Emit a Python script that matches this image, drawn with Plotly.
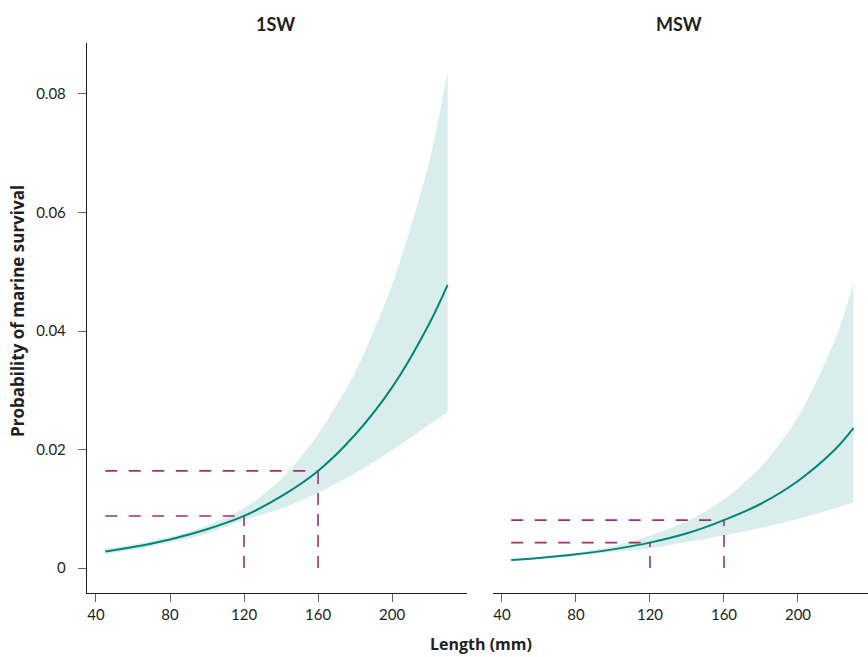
import plotly.graph_objects as go

# ---- data ----
lengths = [45, 60, 80, 100, 120, 140, 160, 180, 200, 220, 230]

sw1_fit = [0.0028, 0.00355, 0.00484, 0.00655, 0.0088, 0.0121, 0.0164, 0.0225, 0.0305, 0.0412, 0.0478]
sw1_upper = [0.0033, 0.0040, 0.0053, 0.0072, 0.0101, 0.0150, 0.0226, 0.0330, 0.0478, 0.0685, 0.0838]
sw1_lower = [0.0024, 0.0031, 0.0043, 0.0058, 0.0081, 0.0100, 0.0127, 0.0160, 0.0199, 0.0242, 0.0263]

msw_fit = [0.00135, 0.0017, 0.00232, 0.00316, 0.0043, 0.00587, 0.0081, 0.01086, 0.0147, 0.0200, 0.0236]
msw_upper = [0.0014, 0.0018, 0.0026, 0.0037, 0.0055, 0.0079, 0.0116, 0.0171, 0.0255, 0.0385, 0.0480]
msw_lower = [0.0013, 0.0016, 0.0021, 0.0027, 0.0033, 0.0044, 0.0055, 0.0068, 0.0083, 0.0101, 0.0111]

ref_lengths = [120, 160]
sw1_ref_prob = [0.0088, 0.0164]
msw_ref_prob = [0.0043, 0.0081]

x_ticks = [40, 80, 120, 160, 200]
y_ticks = [0, 0.02, 0.04, 0.06, 0.08]
y_tick_text = ["0", "0.02", "0.04", "0.06", "0.08"]

panel_titles = ["1SW", "MSW"]
x_title = "Length (mm)"
y_title = "Probability of marine survival"

# ---- styles ----
LINE = "#00857a"
BAND = "#d9eded"
DASH = "#a1306c"
INK = "#231f20"

fig = go.Figure()

panels = [
    ("x", "y", sw1_fit, sw1_upper, sw1_lower, sw1_ref_prob),
    ("x2", "y2", msw_fit, msw_upper, msw_lower, msw_ref_prob),
]

for xa, ya, fit, up, lo, refp in panels:
    fig.add_trace(go.Scatter(x=lengths, y=lo, mode="lines", line=dict(width=0, shape="spline", smoothing=0.8),
                             xaxis=xa, yaxis=ya, hoverinfo="skip", showlegend=False))
    fig.add_trace(go.Scatter(x=lengths, y=up, mode="lines", line=dict(width=0, shape="spline", smoothing=0.8),
                             fill="tonexty", fillcolor=BAND,
                             xaxis=xa, yaxis=ya, hoverinfo="skip", showlegend=False))
    for L, p in zip(ref_lengths, refp):
        fig.add_trace(go.Scatter(x=[lengths[0], L], y=[p, p], mode="lines",
                                 line=dict(color=DASH, width=1.6, dash="12px,11.5px"),
                                 xaxis=xa, yaxis=ya, hoverinfo="skip", showlegend=False))
        fig.add_trace(go.Scatter(x=[L, L], y=[0, p], mode="lines",
                                 line=dict(color=DASH, width=1.6, dash="12px,9px"),
                                 xaxis=xa, yaxis=ya, hoverinfo="skip", showlegend=False))
    fig.add_trace(go.Scatter(x=lengths, y=fit, mode="lines",
                             line=dict(color=LINE, width=2, shape="spline"),
                             xaxis=xa, yaxis=ya, showlegend=False))

tickfont = dict(family="Lato", size=15, color=INK)
common_x = dict(tickvals=x_ticks, ticks="outside", ticklen=8, tickwidth=1.2, tickcolor="#666",
                showline=True, linecolor=INK, linewidth=1.4, showgrid=False, zeroline=False,
                tickfont=tickfont)

plot_h = 657 - 43 - 64
plot_w = 868 - 87
def py(px_y):
    return (657 - 64 - px_y) / plot_h
def px(px_x):
    return (px_x - 87) / plot_w

fig.update_layout(
    width=868, height=657,
    margin=dict(l=87, r=0, t=43, b=64),
    paper_bgcolor="white", plot_bgcolor="white",
    xaxis=dict(domain=[0, 0.4866], range=[35.14, 240.5], anchor="y", **common_x),
    xaxis2=dict(domain=[0.5198, 1.0], range=[35.14, 237.84], anchor="y2", **common_x),
    yaxis=dict(range=[-0.0042, 0.0886], tickvals=y_ticks, ticktext=y_tick_text,
               ticks="outside", ticklen=8, tickwidth=1.2, tickcolor="#666",
               ticklabelstandoff=9,
               showline=True, linecolor=INK, linewidth=1.4, showgrid=False, zeroline=False,
               tickfont=tickfont, anchor="x"),
    yaxis2=dict(range=[-0.0042, 0.0886], matches="y", showline=False, showticklabels=False,
                ticks="", showgrid=False, zeroline=False, anchor="x2"),
    annotations=[
        dict(text="<b>" + panel_titles[0] + "</b>", x=px(275), y=py(24), xref="paper", yref="paper",
             xanchor="center", yanchor="middle",
             showarrow=False, font=dict(family="Lato", size=18, color=INK)),
        dict(text="<b>" + panel_titles[1] + "</b>", x=px(679), y=py(24), xref="paper", yref="paper",
             xanchor="center", yanchor="middle",
             showarrow=False, font=dict(family="Open Sans", size=16, color=INK) if False else dict(family="Lato", size=18, color=INK)),
        dict(text="<b>" + x_title + "</b>", x=px(481), y=py(644), xref="paper", yref="paper",
             xanchor="center", yanchor="middle",
             showarrow=False, font=dict(family="Open Sans", size=16, color=INK)),
        dict(text="<b>" + y_title + "</b>", x=px(17), y=py(311), xref="paper", yref="paper",
             xanchor="center", yanchor="middle",
             showarrow=False, textangle=-90, font=dict(family="Open Sans", size=17, color=INK)),
    ],
)

fig.write_html("out.html")
